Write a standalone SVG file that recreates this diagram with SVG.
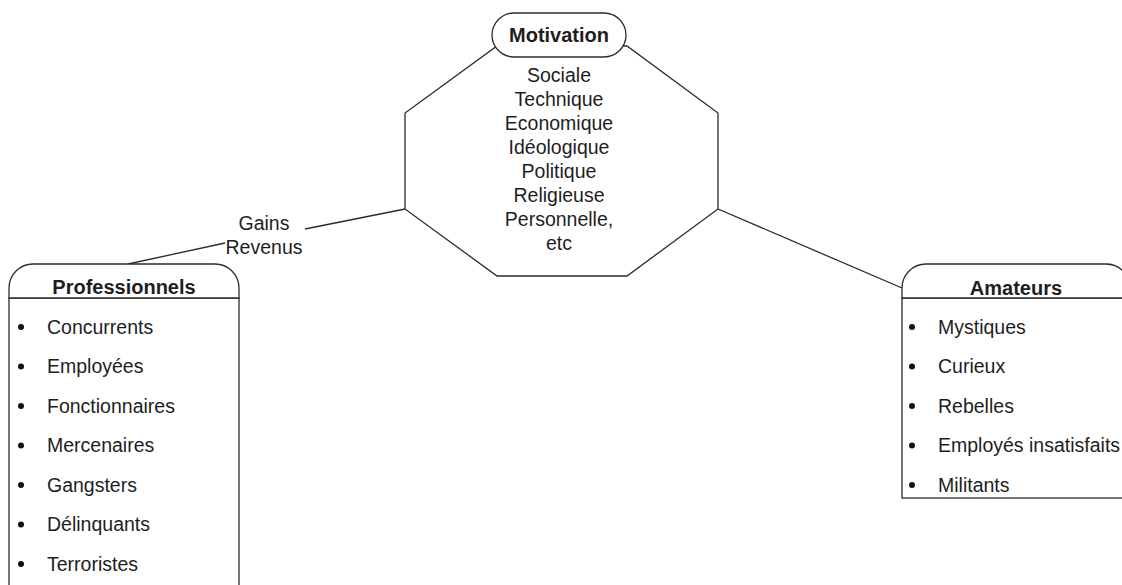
<svg xmlns="http://www.w3.org/2000/svg" width="1122" height="585" viewBox="0 0 1122 585">
  <style>
    .shape { fill: #ffffff; stroke: #2b2b2b; stroke-width: 1.3; }
    .link { fill: none; stroke: #2b2b2b; stroke-width: 1.3; }
    text { font-family: "Liberation Sans", Arial, sans-serif; fill: #1e1e1e; }
    .title { font-size: 20px; font-weight: bold; text-anchor: middle; }
    .body { font-size: 19.5px; }
    .mid { text-anchor: middle; }
    .dot { fill: #111111; }
  </style>

  <rect width="1122" height="585" fill="#ffffff"/>

  <!-- connectors -->
  <g id="connectors">
    <polyline class="link" points="405,209 305,229"/>
    <polyline class="link" points="225,243 128,264"/>
    <polyline class="link" points="718,209 902,288"/>
    <text class="body mid" x="264" y="230">Gains</text>
    <text class="body mid" x="264" y="254">Revenus</text>
  </g>

  <!-- central octagon -->
  <g id="motivation">
    <polygon class="shape" points="497,46 627,46 718,113 718,209 627,276 497,276 405,209 405,113"/>
    <rect class="shape" x="492" y="13" width="134" height="44" rx="22" ry="22"/>
    <text class="title" x="559" y="42">Motivation</text>
    <g class="body">
      <text class="mid" x="559" y="82">Sociale</text>
      <text class="mid" x="559" y="106">Technique</text>
      <text class="mid" x="559" y="130">Economique</text>
      <text class="mid" x="559" y="154">Idéologique</text>
      <text class="mid" x="559" y="178">Politique</text>
      <text class="mid" x="559" y="202">Religieuse</text>
      <text class="mid" x="559" y="226">Personnelle,</text>
      <text class="mid" x="559" y="250">etc</text>
    </g>
  </g>

  <!-- left list -->
  <g id="professionnels">
    <rect class="shape" x="9" y="298" width="230" height="300"/>
    <path class="shape" d="M9,298 V288 A24,24 0 0 1 33,264 H215 A24,24 0 0 1 239,288 V298 Z"/>
    <text class="title" x="124" y="294">Professionnels</text>
    <g class="body">
      <circle class="dot" cx="21" cy="327" r="3"/><text x="47" y="333.5">Concurrents</text>
      <circle class="dot" cx="21" cy="366.5" r="3"/><text x="47" y="373">Employées</text>
      <circle class="dot" cx="21" cy="406" r="3"/><text x="47" y="412.5">Fonctionnaires</text>
      <circle class="dot" cx="21" cy="445.5" r="3"/><text x="47" y="452">Mercenaires</text>
      <circle class="dot" cx="21" cy="485" r="3"/><text x="47" y="491.5">Gangsters</text>
      <circle class="dot" cx="21" cy="524.5" r="3"/><text x="47" y="531">Délinquants</text>
      <circle class="dot" cx="21" cy="564" r="3"/><text x="47" y="570.5">Terroristes</text>
    </g>
  </g>

  <!-- right list -->
  <g id="amateurs">
    <rect class="shape" x="902" y="298" width="228" height="200"/>
    <path class="shape" d="M902,298 V288 A24,24 0 0 1 926,264 H1106 A24,24 0 0 1 1130,288 V298 Z"/>
    <text class="title" x="1016" y="295">Amateurs</text>
    <g class="body">
      <circle class="dot" cx="912" cy="327" r="3"/><text x="938" y="333.5">Mystiques</text>
      <circle class="dot" cx="912" cy="366.5" r="3"/><text x="938" y="373">Curieux</text>
      <circle class="dot" cx="912" cy="406" r="3"/><text x="938" y="412.5">Rebelles</text>
      <circle class="dot" cx="912" cy="445.5" r="3"/><text x="938" y="452">Employés insatisfaits</text>
      <circle class="dot" cx="912" cy="485" r="3"/><text x="938" y="491.5">Militants</text>
    </g>
  </g>
</svg>
